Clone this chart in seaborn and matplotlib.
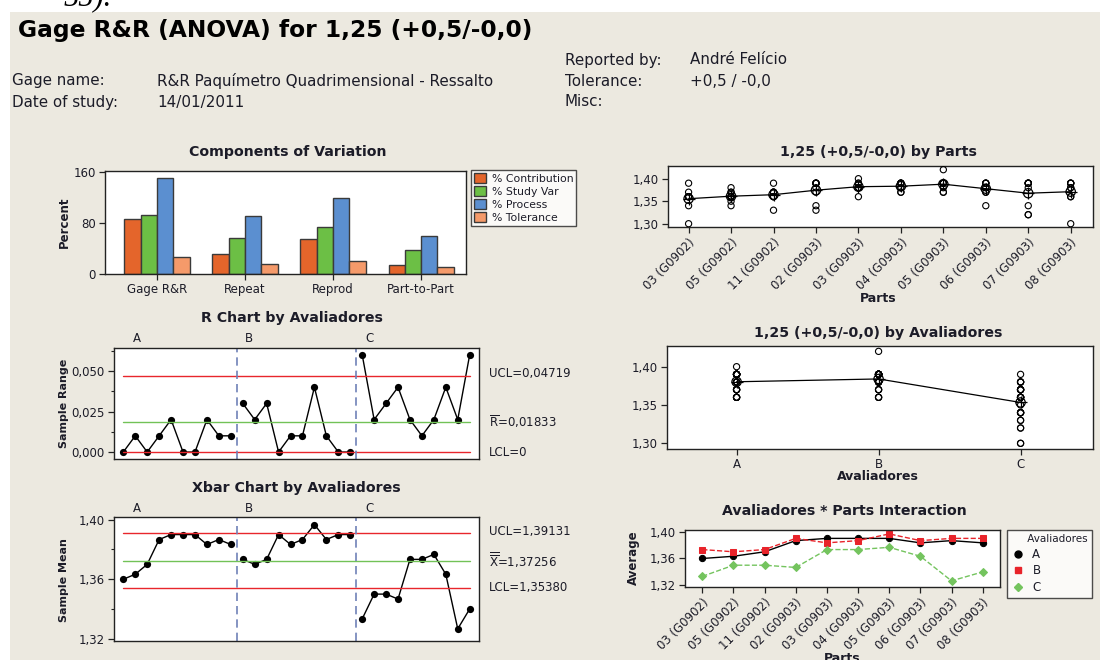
import numpy as np
import pandas as pd
import matplotlib
matplotlib.use("Agg")
import matplotlib.pyplot as plt
from matplotlib.patches import Rectangle, Patch
from matplotlib.lines import Line2D
from matplotlib.ticker import FixedLocator, FuncFormatter
import seaborn as sns

# ---------------------------------------------------------------- data
components = ["Gage R&R", "Repeat", "Reprod", "Part-to-Part"]
measures = ["% Contribution", "% Study Var", "% Process", "% Tolerance"]
pct_contribution = [86.0, 31.7, 54.3, 14.0]
pct_study_var = [92.7, 56.3, 73.7, 37.4]
pct_process = [151.0, 91.5, 119.5, 59.5]
pct_tolerance = [26.5, 15.5, 20.8, 10.8]

parts = ["03 (G0902)", "05 (G0902)", "11 (G0902)", "02 (G0903)", "03 (G0903)",
         "04 (G0903)", "05 (G0903)", "06 (G0903)", "07 (G0903)", "08 (G0903)"]
operators = ["A", "B", "C"]

# three trials per part, listed in part order
meas_A = [[1.36, 1.36, 1.36], [1.36, 1.36, 1.37], [1.37, 1.37, 1.37],
          [1.38, 1.39, 1.39], [1.38, 1.39, 1.40], [1.39, 1.39, 1.39],
          [1.39, 1.39, 1.39], [1.37, 1.39, 1.39], [1.38, 1.39, 1.39],
          [1.38, 1.38, 1.39]]
meas_B = [[1.36, 1.37, 1.39], [1.36, 1.37, 1.38], [1.36, 1.37, 1.39],
          [1.39, 1.39, 1.39], [1.38, 1.38, 1.39], [1.38, 1.39, 1.39],
          [1.38, 1.39, 1.42], [1.38, 1.39, 1.39], [1.39, 1.39, 1.39],
          [1.39, 1.39, 1.39]]
meas_C = [[1.30, 1.34, 1.36], [1.34, 1.35, 1.36], [1.33, 1.36, 1.36],
          [1.33, 1.34, 1.37], [1.36, 1.38, 1.38], [1.37, 1.37, 1.38],
          [1.37, 1.37, 1.39], [1.34, 1.37, 1.38], [1.32, 1.32, 1.34],
          [1.30, 1.36, 1.36]]

ucl_r, rbar, lcl_r = 0.04719, 0.01833, 0.0
ucl_x, xbarbar, lcl_x = 1.39131, 1.37256, 1.35380

# ---------------------------------------------------------------- style
sns.set_theme(style="white")
plt.rcParams["font.family"] = ["DejaVu Sans"]
plt.rcParams["mathtext.default"] = "regular"
plt.rcParams["mathtext.fontset"] = "dejavusans"

W, H = 1100, 660
BG = "#ECE9E0"
TXT = "#1c1c28"
RED = "#e8262c"
GREEN = "#72c257"
VLINE = "#6f82b8"
TICK_FS = 8.5
TITLE_FS = 10.2

fig = plt.figure(figsize=(W / 100, H / 100), dpi=100)
fig.patch.set_facecolor("white")
fig.patches.append(Rectangle((10 / W, 0), 1 - 10 / W, 1 - 12 / H,
                             transform=fig.transFigure, facecolor=BG,
                             edgecolor="none", zorder=-10))


def fx(x):
    return x / W


def fy(y):
    return 1 - y / H


def panel(left, top, right, bottom):
    ax = fig.add_axes([fx(left), fy(bottom), (right - left) / W, (bottom - top) / H])
    ax.set_facecolor("white")
    for s in ax.spines.values():
        s.set_color("#222222")
        s.set_linewidth(1.0)
    ax.tick_params(which="both", direction="out", color="#222222",
                   labelsize=TICK_FS, labelcolor=TXT, bottom=True, left=True)
    ax.tick_params(which="major", length=4, width=0.9, pad=2.5)
    ax.tick_params(which="minor", length=2.5, width=0.8)
    ax.set_xlabel("")
    ax.set_ylabel("")
    return ax


def comma(fmt):
    return FuncFormatter(lambda v, _: format(v, fmt).replace(".", ","))


def ftext(x, y, s, **kw):
    kw.setdefault("color", TXT)
    fig.text(fx(x), fy(y), s, **kw)


# ---------------------------------------------------------------- header
fig.text(fx(64), fy(5), "55).", fontsize=22, style="italic",
         family="Liberation Serif", color="black", va="baseline")
ftext(18, 30, "Gage R&R (ANOVA) for 1,25 (+0,5/-0,0)", fontsize=16.8,
      fontweight="bold", color="black", va="center")
INFO_FS = 10.9
ftext(12, 81, "Gage name:", fontsize=INFO_FS, va="center")
ftext(157, 81, "R&R Paquímetro Quadrimensional - Ressalto", fontsize=INFO_FS, va="center")
ftext(12, 102, "Date of study:", fontsize=INFO_FS, va="center")
ftext(157, 102, "14/01/2011", fontsize=INFO_FS, va="center")
ftext(565, 60, "Reported by:", fontsize=INFO_FS, va="center")
ftext(690, 60, "André Felício", fontsize=INFO_FS, va="center")
ftext(565, 81, "Tolerance:", fontsize=INFO_FS, va="center")
ftext(690, 81, "+0,5 / -0,0", fontsize=INFO_FS, va="center")
ftext(565, 102, "Misc:", fontsize=INFO_FS, va="center")

# ---------------------------------------------------------------- tidy data
rows = []
for op, table in zip(operators, [meas_A, meas_B, meas_C]):
    for pi, trials in enumerate(table):
        for t, v in enumerate(trials):
            rows.append({"Operator": op, "OpIdx": operators.index(op),
                         "PartIdx": pi, "Part": parts[pi], "Trial": t + 1, "Value": v})
long = pd.DataFrame(rows)

sub = (long.groupby(["Operator", "PartIdx"], sort=False)["Value"]
       .agg(Mean="mean", Range=lambda s: round(s.max() - s.min(), 4))
       .reset_index())
sub["Seq"] = sub["Operator"].map({o: i for i, o in enumerate(operators)}) * 10 + sub["PartIdx"] + 1

# ---------------------------------------------------------------- components of variation
ax = panel(105, 171, 466, 274)
comp_wide = pd.DataFrame({"Component": components,
                          measures[0]: pct_contribution,
                          measures[1]: pct_study_var,
                          measures[2]: pct_process,
                          measures[3]: pct_tolerance})
comp_long = comp_wide.melt(id_vars="Component", var_name="Measure", value_name="Percent")
bar_colors = ["#e4652b", "#6cbf45", "#5b8fd0", "#f59a6a"]
sns.barplot(data=comp_long, x="Component", y="Percent", hue="Measure",
            hue_order=measures, palette=bar_colors, edgecolor="#3a3a3a",
            linewidth=1.0, width=0.74, saturation=1, ax=ax)
ax.legend_.remove()
ax.set_xlim(-0.59, 3.51)
ax.set_ylim(0, 162)
ax.yaxis.set_major_locator(FixedLocator([0, 80, 160]))
ax.set_xlabel("")
ax.set_ylabel("")
fig.legend(handles=[Patch(facecolor=c, edgecolor="#3a3a3a", linewidth=1) for c in bar_colors],
           labels=measures, loc="upper left", bbox_to_anchor=(fx(471), fy(170)),
           borderaxespad=0, fontsize=7.8, frameon=True, fancybox=False,
           edgecolor="#222222", handlelength=1.1, handleheight=1.0,
           handletextpad=0.5, labelspacing=0.22, borderpad=0.3,
           labelcolor=TXT).get_frame().set_linewidth(1.0)
ftext(288, 152, "Components of Variation", fontsize=TITLE_FS, fontweight="bold",
      ha="center", va="center")
ftext(64, 222, "Percent", fontsize=8.5, fontweight="bold", rotation=90,
      ha="center", va="center")

# ---------------------------------------------------------------- R chart
ax = panel(114, 348, 479, 459)
sns.lineplot(data=sub, x="Seq", y="Range", hue="Operator", units="Operator",
             estimator=None, palette=["black"] * 3, marker="o", markersize=5.2,
             markeredgewidth=0, linewidth=1, legend=False, ax=ax)
ax.plot([1, 30], [ucl_r, ucl_r], color=RED, lw=1)
ax.plot([1, 30], [rbar, rbar], color=GREEN, lw=1)
ax.plot([1, 30], [lcl_r, lcl_r], color=RED, lw=1)
for xb in (10.5, 20.5):
    ax.axvline(xb, color=VLINE, lw=1.2, ls=(0, (5, 3)))
ax.set_xlim(0.22, 30.78)
ax.set_ylim(-0.0043, 0.0642)
ax.set_xticks([])
ax.yaxis.set_major_locator(FixedLocator([0, 0.025, 0.05]))
ax.yaxis.set_minor_locator(FixedLocator([0.0125, 0.0375, 0.0625]))
ax.yaxis.set_major_formatter(comma(".3f"))
ax.tick_params(axis="x", which="both", bottom=False)
ax.set_xlabel("")
ax.set_ylabel("")
ftext(489, 374, "UCL=0,04719", fontsize=8.5, va="center")
ftext(489, 422, r"$\overline{R}$=0,01833", fontsize=8.5, va="center")
ftext(489, 453, "LCL=0", fontsize=8.5, va="center")
for lab, x in zip(operators, (137, 249, 370)):
    ftext(x, 338, lab, fontsize=8.5, ha="center", va="center")
ftext(292, 318, "R Chart by Avaliadores", fontsize=TITLE_FS, fontweight="bold",
      ha="center", va="center")
ftext(64, 403, "Sample Range", fontsize=8, fontweight="bold", rotation=90,
      ha="center", va="center")

# ---------------------------------------------------------------- Xbar chart
ax = panel(114, 517, 479, 641)
sns.lineplot(data=sub, x="Seq", y="Mean", hue="Operator", units="Operator",
             estimator=None, palette=["black"] * 3, marker="o", markersize=5.2,
             markeredgewidth=0, linewidth=1, legend=False, ax=ax)
ax.plot([1, 30], [ucl_x, ucl_x], color=RED, lw=1)
ax.plot([1, 30], [xbarbar, xbarbar], color=GREEN, lw=1)
ax.plot([1, 30], [lcl_x, lcl_x], color=RED, lw=1)
for xb in (10.5, 20.5):
    ax.axvline(xb, color=VLINE, lw=1.2, ls=(0, (5, 3)))
ax.set_xlim(0.22, 30.78)
ax.set_ylim(1.3185, 1.4018)
ax.set_xticks([])
ax.yaxis.set_major_locator(FixedLocator([1.32, 1.36, 1.40]))
ax.yaxis.set_minor_locator(FixedLocator([1.34, 1.38]))
ax.yaxis.set_major_formatter(comma(".2f"))
ax.tick_params(axis="x", which="both", bottom=False)
ax.set_xlabel("")
ax.set_ylabel("")
ftext(489, 532, "UCL=1,39131", fontsize=8.5, va="center")
ftext(489, 560, r"$\overline{\overline{X}}$=1,37256", fontsize=8.5, va="center")
ftext(489, 588, "LCL=1,35380", fontsize=8.5, va="center")
for lab, x in zip(operators, (137, 249, 370)):
    ftext(x, 508, lab, fontsize=8.5, ha="center", va="center")
ftext(296, 488, "Xbar Chart by Avaliadores", fontsize=TITLE_FS, fontweight="bold",
      ha="center", va="center")
ftext(64, 580, "Sample Mean", fontsize=8, fontweight="bold", rotation=90,
      ha="center", va="center")


def mean_marker(ax, x, y):
    ax.scatter(x, y, s=45, facecolors="none", edgecolors="black", linewidths=0.9, zorder=4)
    ax.scatter(x, y, s=70, marker="+", color="black", linewidths=0.9, zorder=5)


# ---------------------------------------------------------------- by Parts
ax = panel(668, 166, 1093, 227)
sns.scatterplot(data=long, x="PartIdx", y="Value", marker="o", s=20,
                facecolor="none", edgecolor="black", linewidth=0.8, ax=ax, zorder=3)
sns.lineplot(data=long, x="PartIdx", y="Value", estimator="mean", errorbar=None,
             color="black", linewidth=0.9, ax=ax, zorder=2)
part_means = long.groupby("PartIdx")["Value"].mean()
mean_marker(ax, part_means.index, part_means.values)
ax.set_xlim(-0.485, 9.525)
ax.set_ylim(1.2927, 1.4282)
ax.set_xticks(range(len(parts)))
ax.set_xticklabels(parts, rotation=45, ha="right", rotation_mode="anchor")
ax.yaxis.set_major_locator(FixedLocator([1.30, 1.35, 1.40]))
ax.yaxis.set_major_formatter(comma(".2f"))
ax.set_xlabel("")
ax.set_ylabel("")
ftext(878, 152, "1,25 (+0,5/-0,0) by Parts", fontsize=TITLE_FS, fontweight="bold",
      ha="center", va="center")
ftext(878, 299, "Parts", fontsize=9, fontweight="bold", ha="center", va="center")

# ---------------------------------------------------------------- by Avaliadores
ax = panel(667, 346, 1093, 449)
sns.scatterplot(data=long, x="OpIdx", y="Value", marker="o", s=20,
                facecolor="none", edgecolor="black", linewidth=0.8, ax=ax, zorder=3)
sns.lineplot(data=long, x="OpIdx", y="Value", estimator="mean", errorbar=None,
             color="black", linewidth=0.9, ax=ax, zorder=2)
op_means = long.groupby("OpIdx")["Value"].mean()
mean_marker(ax, op_means.index, op_means.values)
ax.set_xlim(-0.49, 2.51)
ax.set_ylim(1.2926, 1.427)
ax.set_xticks(range(len(operators)))
ax.set_xticklabels(operators)
ax.yaxis.set_major_locator(FixedLocator([1.30, 1.35, 1.40]))
ax.yaxis.set_major_formatter(comma(".2f"))
ax.set_xlabel("")
ax.set_ylabel("")
ftext(878, 333, "1,25 (+0,5/-0,0) by Avaliadores", fontsize=TITLE_FS, fontweight="bold",
      ha="center", va="center")
ftext(878, 477, "Avaliadores", fontsize=9, fontweight="bold", ha="center", va="center")

# ---------------------------------------------------------------- interaction
ax = panel(685, 530, 1000, 587)
op_colors = {"A": "black", "B": "#e8232a", "C": "#74c45e"}
op_markers = ["o", "s", "D"]
sns.pointplot(data=long, x="Part", y="Value", hue="Operator", order=parts,
              hue_order=operators, estimator="mean", errorbar=None,
              palette=op_colors, markers=op_markers, linestyles=["-", "--", "--"],
              markersize=4.5, linewidth=1, ax=ax)
if ax.legend_ is not None:
    ax.legend_.remove()
ax.set_xlim(-0.556, 9.556)
ax.set_ylim(1.3175, 1.4025)
ax.set_xticks(range(len(parts)))
ax.set_xticklabels(parts, rotation=45, ha="right", rotation_mode="anchor")
ax.yaxis.set_major_locator(FixedLocator([1.32, 1.36, 1.40]))
ax.yaxis.set_major_formatter(comma(".2f"))
ax.set_xlabel("")
ax.set_ylabel("")
leg = fig.legend(handles=[Line2D([], [], marker=m, ls="none", color=op_colors[o],
                                 markersize=5 if m != "D" else 4.5)
                          for o, m in zip(operators, op_markers)],
                 labels=operators, title="     Avaliadores", loc="upper left",
                 bbox_to_anchor=(fx(1007), fy(530)), borderaxespad=0,
                 fontsize=8.5, title_fontsize=7.5, frameon=True, fancybox=False,
                 edgecolor="#222222", handlelength=1.2, handletextpad=0.6,
                 labelspacing=0.3, borderpad=0.35, labelcolor=TXT)
leg.get_frame().set_linewidth(1.0)
leg._legend_box.align = "left"
leg.get_title().set_color(TXT)
ftext(844, 511, "Avaliadores * Parts Interaction", fontsize=TITLE_FS, fontweight="bold",
      ha="center", va="center")
ftext(633, 558, "Average", fontsize=8.5, fontweight="bold", rotation=90,
      ha="center", va="center")
ftext(842, 659, "Parts", fontsize=9, fontweight="bold", ha="center", va="center")

fig.savefig("out.png", dpi=100, facecolor=fig.get_facecolor())
